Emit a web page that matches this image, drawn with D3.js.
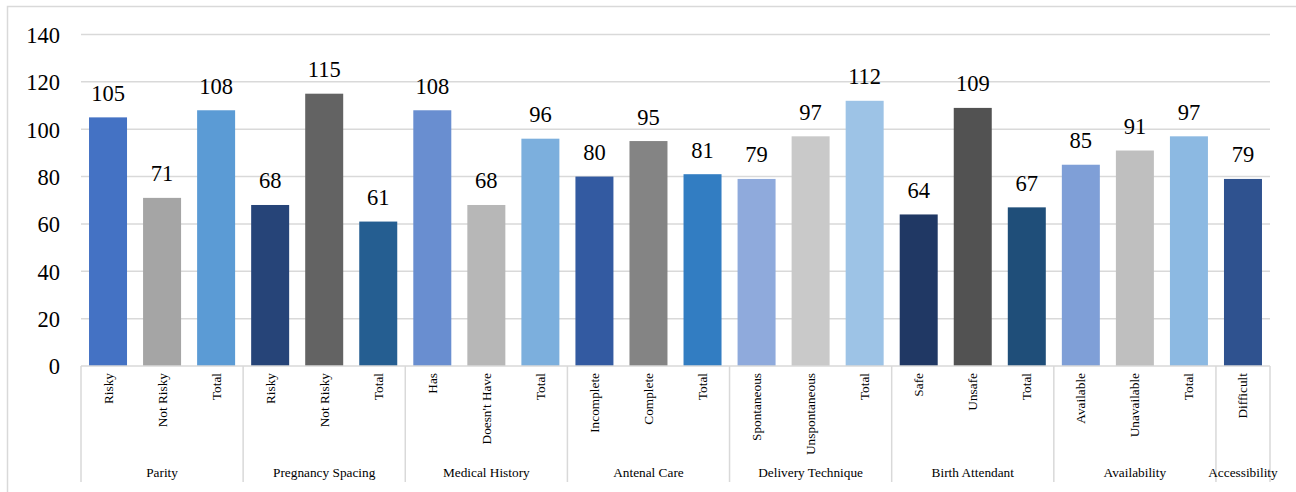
<!DOCTYPE html>
<html><head><meta charset="utf-8">
<script src="https://cdn.jsdelivr.net/npm/d3@7"></script>
<style>body{margin:0;background:#fff}svg{display:block}svg text{font-family:"Liberation Serif","Times New Roman",serif;fill:#000}</style>
</head><body>
<svg id="c" width="1296" height="492"></svg>
<script>
const groups = ["Parity","Pregnancy Spacing","Medical History","Antenal Care","Delivery Technique","Birth Attendant","Availability","Accessibility"];
const groupSizes = [3,3,3,3,3,3,3,1];
const categories = ["Risky","Not Risky","Total","Risky","Not Risky","Total","Has","Doesn't Have","Total","Incomplete","Complete","Total","Spontaneous","Unspontaneous","Total","Safe","Unsafe","Total","Available","Unavailable","Total","Difficult"];
const values = [105,71,108,68,115,61,108,68,96,80,95,81,79,97,112,64,109,67,85,91,97,79];
const colors = ["#4472C4","#A5A5A5","#5B9BD5","#264478","#636363","#255E91","#698ED0","#B7B7B7","#7CAFDD","#335AA1","#848484","#327DC2","#8FAADC","#C9C9C9","#9DC3E6","#203864","#525252","#1F4E79","#7F9FD7","#BFBFBF","#8CB9E2","#2F528F"];
const yTicks = [0,20,40,60,80,100,120,140];

const svg = d3.select("#c");
const L = 81, R = 1270, T = 34.5, B = 366;
const font = "'Liberation Serif','Times New Roman',serif";

svg.append("rect").attr("x",7.5).attr("y",6.5).attr("width",1300).attr("height",500)
  .attr("fill","none").attr("stroke","#d9d9d9").attr("stroke-width",1.5);

const idx = d3.range(categories.length);
const step = (R-L)/categories.length;
const y = d3.scaleLinear().domain([0,140]).range([B,T]);
const xc = i => L+step*i+step/2;

// gridlines
svg.append("g").selectAll("line").data(yTicks.filter(d=>d>0)).join("line")
  .attr("x1",L).attr("x2",R).attr("y1",d=>y(d)).attr("y2",d=>y(d))
  .attr("stroke","#d9d9d9").attr("stroke-width",1.5);

// y axis labels
const ya = svg.append("g").attr("transform",`translate(${L},0)`)
  .call(d3.axisLeft(y).tickValues(yTicks).tickSize(0).tickPadding(21));
ya.attr("font-family",null).attr("font-size",null);
ya.select(".domain").remove();
ya.selectAll("text").style("font-family",font).style("font-size","22.5px").attr("fill","#000").attr("dy","0.35em");

// bars
svg.append("g").selectAll("rect").data(idx).join("rect")
  .attr("x",i=>xc(i)-19).attr("width",38)
  .attr("y",i=>y(values[i])).attr("height",i=>B-y(values[i]))
  .attr("fill",i=>colors[i]);

// data labels
svg.append("g").selectAll("text").data(idx).join("text")
  .attr("x",xc).attr("y",i=>y(values[i])-16.5)
  .attr("text-anchor","middle").style("font-family",font).style("font-size","22.5px")
  .text(i=>values[i]);

// x axis baseline
svg.append("line").attr("x1",L).attr("x2",R).attr("y1",B).attr("y2",B)
  .attr("stroke","#d9d9d9").attr("stroke-width",1.5);

// group separators
let starts=[0]; groupSizes.forEach((s,k)=>starts.push(starts[k]+s));
svg.append("g").selectAll("line").data(starts).join("line")
  .attr("x1",s=>L+step*s).attr("x2",s=>L+step*s).attr("y1",B).attr("y2",482)
  .attr("stroke","#d9d9d9").attr("stroke-width",1.5);

// category labels
svg.append("g").selectAll("text").data(idx).join("text")
  .attr("transform",i=>`translate(${xc(i)+4.5},373) rotate(-90)`)
  .attr("text-anchor","end").style("font-family",font).style("font-size","13.3px")
  .text(i=>categories[i]);

// group labels
svg.append("g").selectAll("text").data(groups).join("text")
  .attr("x",(g,k)=>L+step*(starts[k]+groupSizes[k]/2)).attr("y",477)
  .attr("text-anchor","middle").style("font-family",font).style("font-size","13.3px")
  .text(g=>g);
</script>
</body></html>
